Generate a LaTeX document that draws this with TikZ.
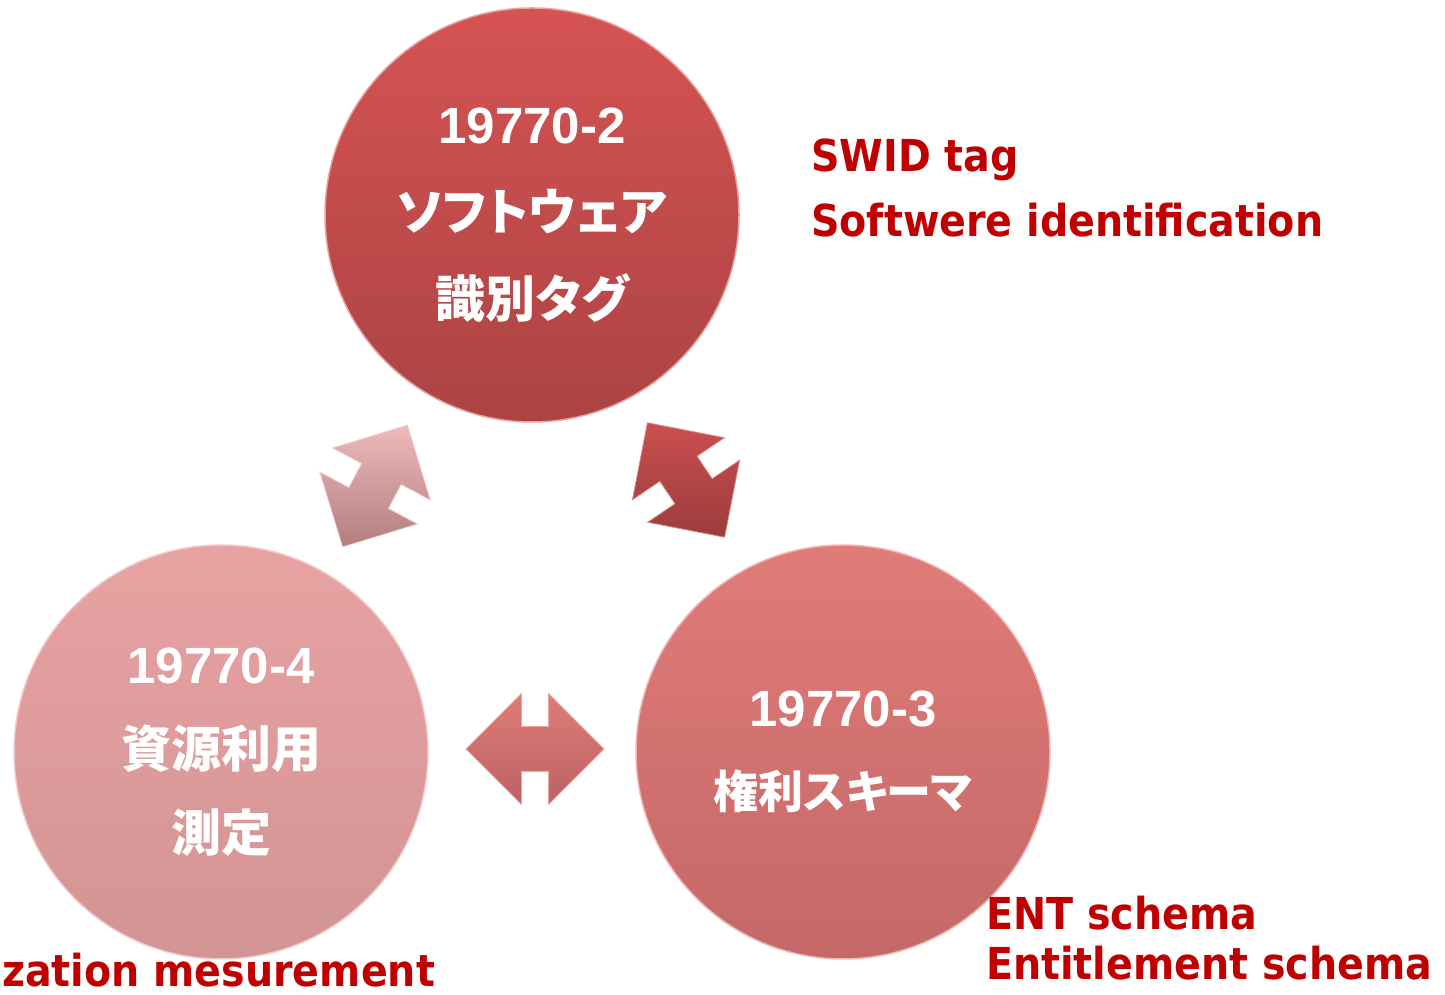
\documentclass[tikz,border=0pt]{standalone}
\usepackage{fontspec}
\setmainfont{Liberation Sans}
\newfontfamily\jpfont{Noto Sans CJK JP}[RawFeature=+palt]
\newfontfamily\tagfont{DejaVu Sans Condensed}
\usepackage{tikz}
\usetikzlibrary{shapes.arrows}
\definecolor{tagred}{HTML}{C00000}
\definecolor{isoTwoTop}{HTML}{D65353}
\definecolor{isoTwoBot}{HTML}{AC4343}
\definecolor{isoThreeTop}{HTML}{E07C78}
\definecolor{isoThreeBot}{HTML}{C46868}
\definecolor{isoFourTop}{HTML}{E8A2A2}
\definecolor{isoFourBot}{HTML}{D29494}
\tikzset{
  disc/.style 2 args={circle, minimum size=414pt, inner sep=0pt, top color=#1, bottom color=#2,
    draw=#1!55!white, line width=1.5pt, text=white, align=center},
  swap/.style 2 args={double arrow, double arrow head extend=33pt, minimum height=138pt,
    inner xsep=0pt, inner ysep=22pt, top color=#1, bottom color=#2, draw=#1!70!white, line width=0.8pt},
  tagnote/.style={text=tagred, inner sep=0pt, font=\tagfont\bfseries\fontsize{44}{50}\selectfont},
}
\newcommand{\isonum}[1]{{\fontsize{51}{87}\selectfont\bfseries #1}}
\newcommand{\jpline}[1]{{\jpfont\bfseries #1}}

\begin{document}
\begin{tikzpicture}[x=1pt, y=1pt]
\useasboundingbox (0,0) rectangle (1445,995);
% --- the three parts of ISO/IEC 19770 ---
\node[disc={isoTwoTop}{isoTwoBot}, font=\fontsize{50}{87}\selectfont] (iso2) at (532,780)
  {\isonum{19770-2}\\\jpline{ソフトウェア}\\\jpline{識別タグ}};
\node[disc={isoFourTop}{isoFourBot}, font=\fontsize{50}{84}\selectfont] (iso4) at (221,243)
  {\isonum{19770-4}\\\jpline{資源利用}\\\jpline{測定}};
\node[disc={isoThreeTop}{isoThreeBot}, font=\fontsize{50}{82}\selectfont] (iso3) at (843,243)
  {\isonum{19770-3}\\\jpline{\fontsize{45}{82}\selectfont 権利スキーマ}};
% --- two-way arrows between them ---
\node[swap={isoFourTop!75!white}{isoFourBot!85!black}, rotate=62] (a24) at (375,509) {};
\node[swap={isoTwoTop!95!black}{isoTwoBot!90!black}, rotate=-56] (a23) at (686,515) {};
\node[swap={isoThreeTop}{isoThreeBot!95!black}] (a34) at (535,246) {};
% --- English names ---
\node[tagnote, anchor=base west] (swid) at (811,823) {SWID tag};
\node[tagnote, anchor=base west] (swidlong) at (811,758) {Softwere identification};
\node[tagnote, anchor=base west] (ent) at (986,65) {ENT schema};
\node[tagnote, anchor=base west] (entlong) at (986,15) {Entitlement schema};
\node[tagnote, anchor=base west] (rum) at (2,8) {zation mesurement};
\end{tikzpicture}
\end{document}
